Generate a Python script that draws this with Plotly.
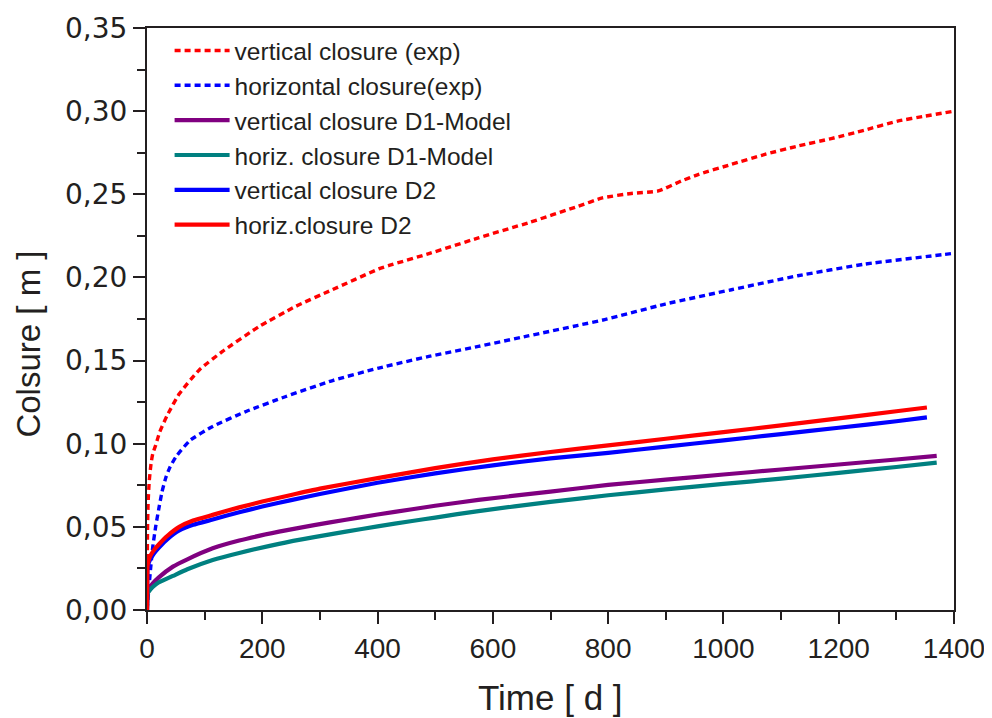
import plotly.graph_objects as go

# ---- data ----
t_vexp = [0, 0.5, 1, 2, 4, 7, 10, 15, 22, 35, 56, 91, 131, 195, 258, 322, 402, 420, 489, 575,
          661, 748, 790, 840, 887, 927, 957, 1014, 1072, 1129, 1187, 1245, 1302, 1350, 1400]
v_vexp = [0, 0.030, 0.050, 0.065, 0.078, 0.088, 0.094, 0.099, 0.107, 0.117, 0.1300, 0.1445,
          0.1555, 0.1706, 0.1826, 0.1927, 0.2051, 0.2072, 0.2143, 0.2238, 0.2328, 0.2428,
          0.2478, 0.2505, 0.2520, 0.2580, 0.2620, 0.2680, 0.2740, 0.2790, 0.2835, 0.2886,
          0.2940, 0.2970, 0.3000]

t_hexp = [0, 3, 6, 10, 15, 20, 26, 33, 40, 50, 74, 114, 172, 241, 322, 402, 489, 575, 661,
          748, 794, 899, 1014, 1129, 1245, 1383, 1400]
v_hexp = [0, 0.012, 0.024, 0.038, 0.050, 0.060, 0.071, 0.080, 0.086, 0.092, 0.1018, 0.1104,
          0.1194, 0.1284, 0.1380, 0.1455, 0.1525, 0.1585, 0.1648, 0.1712, 0.1746, 0.1840,
          0.1926, 0.2010, 0.2080, 0.2138, 0.2145]

t_d2 = [0, 0.5, 1, 5, 12, 22, 35, 56, 80, 114, 160, 200, 250, 300, 400, 500, 600, 700, 800,
        900, 1000, 1100, 1200, 1300, 1353]
v_horiz_d2 = [0, 0.020, 0.027, 0.032, 0.036, 0.040, 0.0445, 0.0500, 0.0538, 0.0572, 0.0617,
              0.0652, 0.0692, 0.0730, 0.0793, 0.0853, 0.0906, 0.0950, 0.0990, 0.1030, 0.1070,
              0.1110, 0.1152, 0.1195, 0.1218]
v_vert_d2 = [0, 0.020, 0.026, 0.030, 0.034, 0.038, 0.0425, 0.0478, 0.0512, 0.0544, 0.0588,
             0.0622, 0.0661, 0.0698, 0.0765, 0.0822, 0.0870, 0.0912, 0.0945, 0.0983, 0.1020,
             0.1058, 0.1096, 0.1135, 0.1158]

t_d1 = [0, 0.5, 1, 5, 10, 20, 45, 70, 114, 160, 229, 290, 345, 400, 460, 500, 575, 700, 800,
        900, 1000, 1100, 1200, 1300, 1370]
v_vert_d1 = [0, 0.007, 0.010, 0.0135, 0.016, 0.0195, 0.0261, 0.0305, 0.0371, 0.0418, 0.0471,
             0.0510, 0.0543, 0.0574, 0.0606, 0.0627, 0.0662, 0.0712, 0.0752, 0.0784, 0.0815,
             0.0845, 0.0875, 0.0905, 0.0927]
v_horiz_d1 = [0, 0.007, 0.010, 0.0120, 0.0138, 0.0165, 0.0205, 0.0245, 0.0301, 0.0343, 0.0398,
              0.0438, 0.0471, 0.0503, 0.0535, 0.0556, 0.0595, 0.0650, 0.0690, 0.0725, 0.0758,
              0.0790, 0.0825, 0.0860, 0.0886]

x_ticks = [0, 200, 400, 600, 800, 1000, 1200, 1400]
y_ticks = [0.0, 0.05, 0.10, 0.15, 0.20, 0.25, 0.30, 0.35]

FONT = "Liberation Sans, Arial, Helvetica, sans-serif"
YFONT = "DejaVu Sans, Liberation Sans, sans-serif"
INK = "#231f20"

series = [
    ("vertical closure (exp)", t_vexp, v_vexp, "#ff0000", "6px,4px"),
    ("horizontal closure(exp)", t_hexp, v_hexp, "#0000ff", "6px,4px"),
    ("vertical closure D1-Model", t_d1, v_vert_d1, "#800080", "solid"),
    ("horiz. closure D1-Model", t_d1, v_horiz_d1, "#008080", "solid"),
    ("vertical closure D2", t_d2, v_vert_d2, "#0000ff", "solid"),
    ("horiz.closure D2", t_d2, v_horiz_d2, "#ff0000", "solid"),
]

fig = go.Figure()
for name, xs, ys, col, dash in series:
    fig.add_trace(go.Scatter(
        x=xs, y=ys, name=name, mode="lines",
        line=dict(color=col, width=4.2 if dash == "solid" else 3.4, dash=dash,
                  shape="spline", smoothing=0.5),
    ))

axis_common = dict(
    showline=True, linecolor=INK, linewidth=2, mirror=True,
    ticks="outside", ticklen=12, tickwidth=2, tickcolor=INK,
    showgrid=False, zeroline=False, automargin=False,
)

fig.update_xaxes(
    range=[0, 1400], tickvals=x_ticks, ticktext=[str(v) for v in x_ticks],
    tickfont=dict(family=FONT, size=28, color=INK),
    minor=dict(dtick=100, ticks="outside", ticklen=8, tickwidth=2, tickcolor=INK),
    **axis_common,
)
fig.update_yaxes(
    range=[0, 0.35], tickvals=y_ticks, tickformat=".2f",
    tickfont=dict(family=YFONT, size=28, color=INK),
    minor=dict(dtick=0.025, ticks="outside", ticklen=8, tickwidth=2, tickcolor=INK),
    **axis_common,
)

# page body has an 8px margin, so the figure is sized to fit inside the window
fig.update_layout(
    width=984, height=710,
    margin=dict(l=139, r=38, t=20, b=108, autoexpand=False),
    paper_bgcolor="white", plot_bgcolor="white",
    separators=",.",
    font=dict(family=FONT, color=INK),
    showlegend=True,
    legend=dict(
        x=0.028, y=1.0, xanchor="left", yanchor="top",
        bgcolor="rgba(0,0,0,0)", borderwidth=0,
        font=dict(family=FONT, size=24.5, color=INK),
        itemwidth=55,
    ),
    annotations=[
        dict(text="Time [ d ]", xref="paper", yref="paper", x=0.5, y=-0.1495,
             xanchor="center", yanchor="middle", showarrow=False,
             font=dict(family=FONT, size=35, color=INK)),
        dict(text="Colsure [ m ]", xref="paper", yref="paper", x=-0.148, y=0.457,
             xanchor="center", yanchor="middle", showarrow=False, textangle=-90,
             font=dict(family=FONT, size=33, color=INK)),
    ],
)

fig.write_html("out.html")
